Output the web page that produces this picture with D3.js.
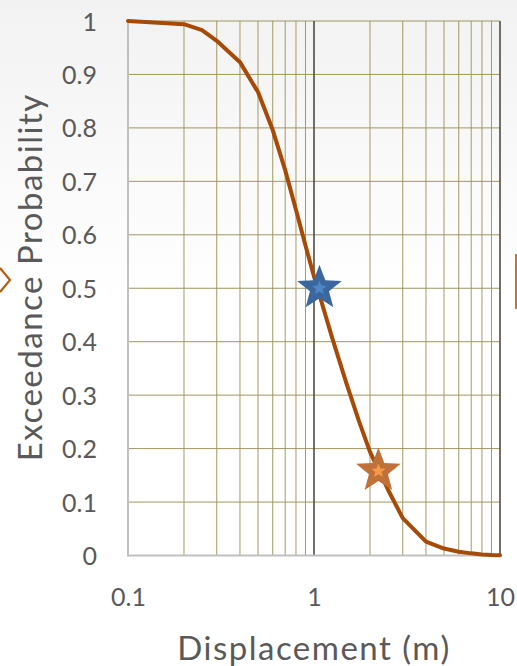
<!DOCTYPE html>
<html>
<head>
<meta charset="utf-8">
<script src="https://cdn.jsdelivr.net/npm/d3@7"></script>
<style>
  html, body { margin: 0; padding: 0; background: #fff; }
  svg { display: block; }
  text { font-family: Lato, "Noto Sans", sans-serif; fill: #595959; }
</style>
</head>
<body>
<svg id="chart" width="517" height="666"></svg>
<script>
// Exceedance curve: displacement (m) vs probability of exceedance
const displacement = [0.1, 0.2, 0.25, 0.3, 0.4, 0.5, 0.6, 0.7, 0.8, 0.9, 1.0,
                      1.25, 1.5, 1.75, 2, 2.5, 3, 4, 5, 6, 7, 8, 9, 10];
const exceedance   = [1.0, 0.994, 0.983, 0.963, 0.923, 0.867, 0.796, 0.721, 0.647, 0.58, 0.522,
                      0.408, 0.32, 0.25, 0.194, 0.123, 0.07, 0.026, 0.013, 0.007, 0.004, 0.002, 0.001, 0.0005];

// Highlighted scenarios
const markerNames = ["median", "design"];
const markerX     = [1.07, 2.22];
const markerY     = [0.5, 0.158];

// Axis ticks
const xTickValues = [0.1, 1, 10];
const xTickLabels = ["0.1", "1", "10"];
const yTickValues = [0, 0.1, 0.2, 0.3, 0.4, 0.5, 0.6, 0.7, 0.8, 0.9, 1];
const yTickLabels = ["0", "0.1", "0.2", "0.3", "0.4", "0.5", "0.6", "0.7", "0.8", "0.9", "1"];
const xMinorGrid  = [2, 3, 4, 5, 6, 7, 8, 9, 20, 30, 40, 50, 60, 70, 80, 90].map(v => v / 10);

const W = 517, H = 666;
const margin = { top: 21, right: 17, bottom: 111, left: 128 };
const svg = d3.select("#chart");

// soft grey wash fading to white
const defs = svg.append("defs");
const grad = defs.append("linearGradient").attr("id", "bg")
  .attr("x1", 0).attr("y1", 0).attr("x2", 0).attr("y2", 1);
grad.append("stop").attr("offset", 0).attr("stop-color", "#f2f2f2");
grad.append("stop").attr("offset", 0.45).attr("stop-color", "#ffffff");
svg.append("rect").attr("width", W).attr("height", H).attr("fill", "url(#bg)");

const x = d3.scaleLog().domain([0.1, 10]).range([margin.left, W - margin.right]);
const y = d3.scaleLinear().domain([0, 1]).range([H - margin.bottom + 0.5, margin.top]);

const grid = svg.append("g");
// minor vertical grid
grid.selectAll("line.vminor").data(xMinorGrid).join("line")
  .attr("x1", d => x(d)).attr("x2", d => x(d))
  .attr("y1", y(0)).attr("y2", y(1))
  .attr("stroke", "#a39a64").attr("stroke-width", 1);
// horizontal grid
grid.selectAll("line.h").data(yTickValues.filter(v => v > 0)).join("line")
  .attr("x1", x(0.1)).attr("x2", x(10))
  .attr("y1", d => y(d)).attr("y2", d => y(d))
  .attr("stroke", "#a0965e").attr("stroke-width", 1);
// major vertical grid (decades)
grid.selectAll("line.vmajor").data([1, 10]).join("line")
  .attr("x1", d => x(d)).attr("x2", d => x(d))
  .attr("y1", y(0)).attr("y2", y(1))
  .attr("stroke", "#4f4c40").attr("stroke-width", 1.6);

// axis lines
svg.append("line").attr("x1", x(0.1)).attr("x2", x(0.1)).attr("y1", y(0) + 1).attr("y2", y(1))
  .attr("stroke", "#c0c0c0").attr("stroke-width", 2);
svg.append("line").attr("x1", x(0.1) - 1).attr("x2", x(10)).attr("y1", y(0)).attr("y2", y(0))
  .attr("stroke", "#c0c0c0").attr("stroke-width", 2);

// tick labels through d3 axes
const yAxis = svg.append("g").attr("transform", `translate(${x(0.1) - 28},0)`)
  .call(d3.axisLeft(y).tickValues(yTickValues).tickSize(0)
    .tickFormat((d, i) => yTickLabels[i]));
yAxis.select(".domain").remove();
yAxis.selectAll("text").attr("font-size", 25).attr("dy", "0.36em")
  .style("font-family", "Lato").attr("fill", "#595959");

const xAxis = svg.append("g").attr("transform", `translate(0,${y(0) + 30})`)
  .call(d3.axisBottom(x).tickValues(xTickValues).tickSize(0)
    .tickFormat((d, i) => xTickLabels[i]));
xAxis.select(".domain").remove();
xAxis.selectAll("text").attr("font-size", 25).attr("dy", "0.71em")
  .style("font-family", "Lato").attr("fill", "#595959");

// axis titles
svg.append("text").attr("x", x(1)).attr("y", 660)
  .attr("text-anchor", "middle").attr("font-size", 33).attr("letter-spacing", 1.5)
  .text("Displacement (m)");
svg.append("text")
  .attr("transform", `translate(42,${(y(0) + y(1)) / 2 - 11}) rotate(-90)`)
  .attr("text-anchor", "middle").attr("font-size", 33).attr("letter-spacing", 1.5)
  .text("Exceedance Probability");

// exceedance curve
const pts = displacement.map((d, i) => [d, exceedance[i]]);
svg.append("path").datum(pts)
  .attr("fill", "none").attr("stroke", "#a64a06").attr("stroke-width", 4)
  .attr("stroke-linejoin", "round").attr("stroke-linecap", "round")
  .attr("d", d3.line().x(d => x(d[0])).y(d => y(d[1])));

// star markers
function starPath(cx, cy, R, r) {
  const p = [];
  for (let k = 0; k < 10; k++) {
    const a = -Math.PI / 2 + k * Math.PI / 5;
    const rad = k % 2 === 0 ? R : r;
    p.push([cx + rad * Math.cos(a), cy + rad * Math.sin(a)]);
  }
  return "M" + p.map(q => q.join(",")).join("L") + "Z";
}
const starOuter = ["#3c679e", "#c0713a"];
const starInner = ["#4f86c6", "#f59a48"];
markerNames.forEach((name, i) => {
  const cx = x(markerX[i]), cy = y(markerY[i]);
  svg.append("path").attr("class", name)
    .attr("d", starPath(cx, cy, 23.5, 10)).attr("fill", starOuter[i]);
  svg.append("path")
    .attr("d", starPath(cx, cy, 7.5, 3.3)).attr("fill", starInner[i]);
});

// edge decorations
svg.append("path").attr("d", "M0,268 L10,280 L0,292")
  .attr("fill", "none").attr("stroke", "#b35c12").attr("stroke-width", 2.2);
svg.append("line").attr("x1", 516).attr("x2", 516).attr("y1", 254).attr("y2", 309)
  .attr("stroke", "#c47434").attr("stroke-width", 2);
</script>
</body>
</html>
